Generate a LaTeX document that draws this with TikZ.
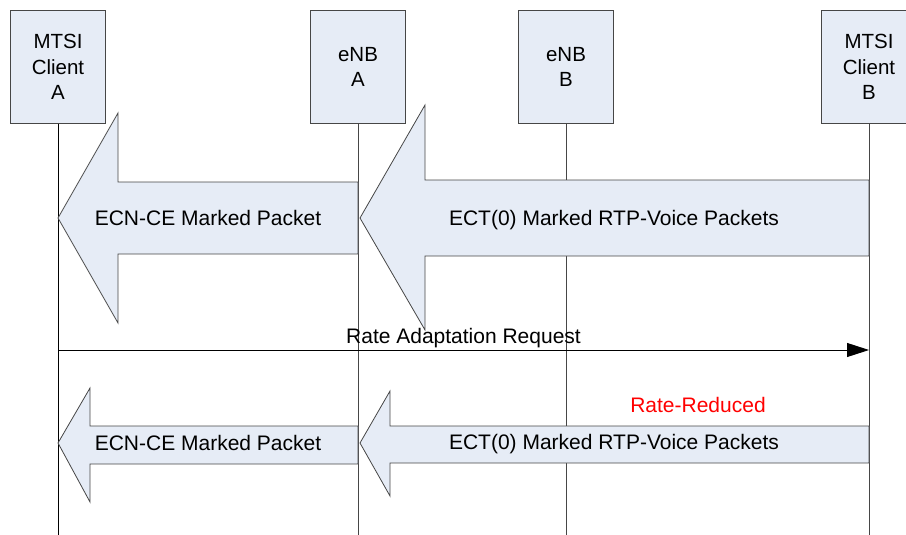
\documentclass[tikz,border=0pt]{standalone}
\usepackage{fontspec}
\setmainfont{Liberation Sans}
\usetikzlibrary{arrows.meta}
\definecolor{boxfill}{RGB}{230,236,246}
\definecolor{edge}{RGB}{70,70,70}
\begin{document}
\begin{tikzpicture}[x=1pt,y=-1pt,
  actor/.style={draw=edge, fill=boxfill, line width=0.8pt, minimum width=95pt,
    minimum height=113pt, align=center, inner sep=0pt, anchor=north,
    font=\fontsize{20.5}{25.5}\selectfont},
  lifeline/.style={draw=edge, line width=0.9pt},
  bigarrow/.style={draw=edge, fill=boxfill, line width=0.8pt, line join=miter},
  lbl/.style={font=\fontsize{21}{25}\selectfont, inner sep=0pt, anchor=base}]
  \clip (0,0) rectangle (906,535);

  % participants
  \node[actor] (ma) at (58,10)  {MTSI\\Client\\A};
  \node[actor] (ea) at (358,10) {eNB\\A};
  \node[actor] (eb) at (566,10) {eNB\\B};
  \node[actor] (mb) at (869,10) {MTSI\\Client\\B};

  % lifeline ends
  \coordinate (maend) at (58,535);
  \coordinate (eaend) at (358,535);
  \coordinate (ebend) at (566,535);
  \coordinate (mbend) at (869,535);

  \draw[lifeline, draw=black] (ma.south) -- (maend);
  \draw[lifeline] (ea.south) -- (eaend);
  \draw[lifeline] (eb.south) -- (ebend);
  \draw[lifeline] (mb.south) -- (mbend);

  % first exchange: wide block arrows
  \draw[bigarrow] (58,218) -- (118,113) -- (118,182) -- (358,182) -- (358,254)
    -- (118,254) -- (118,323) -- cycle;
  \node[lbl] (ecn1) at (208,225.5) {ECN-CE Marked Packet};

  \draw[bigarrow] (360,218) -- (425,105) -- (425,180) -- (869,180) -- (869,256)
    -- (425,256) -- (425,330) -- cycle;
  \node[lbl] (ect1) at (614,225.5) {ECT(0) Marked RTP-Voice Packets};

  % rate adaptation request
  \coordinate (rqa) at (58,350);
  \coordinate (rqb) at (869,350);
  \draw[line width=0.9pt, -{Triangle[length=22pt,width=14pt]}] (rqa) -- (rqb);
  \node[lbl] (rq) at (463.5,343) {Rate Adaptation Request};

  % second exchange: narrower block arrows
  \draw[bigarrow] (58,443) -- (90,388) -- (90,426) -- (358,426) -- (358,464)
    -- (90,464) -- (90,502) -- cycle;
  \node[lbl] (ecn2) at (208,450.5) {ECN-CE Marked Packet};

  \draw[bigarrow] (360,443) -- (390,391) -- (390,426) -- (869,426) -- (869,463)
    -- (390,463) -- (390,496) -- cycle;
  \node[lbl] (ect2) at (614,449.5) {ECT(0) Marked RTP-Voice Packets};

  \node[lbl, text=red] (rr) at (698,412) {Rate-Reduced};
\end{tikzpicture}
\end{document}
